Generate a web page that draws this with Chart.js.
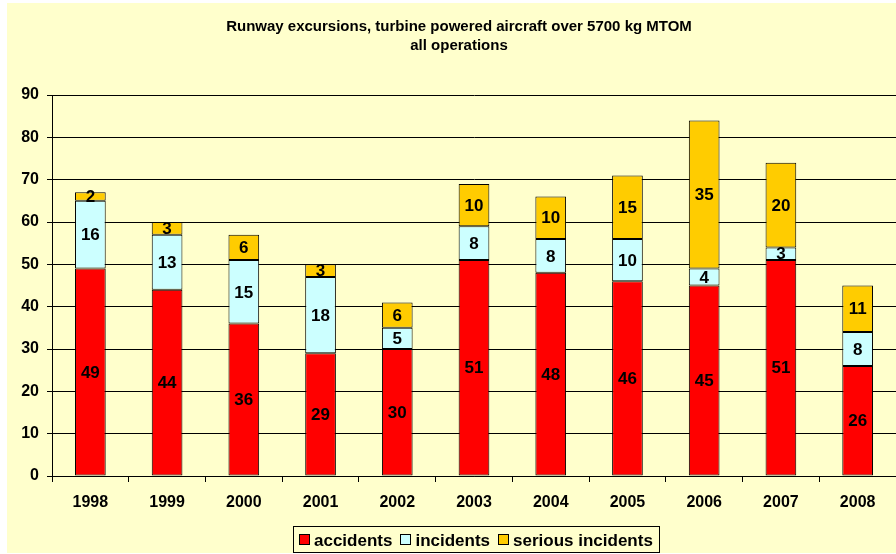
<!DOCTYPE html>
<html>
<head>
<meta charset="utf-8">
<script src="https://cdn.jsdelivr.net/npm/chart.js@4/dist/chart.umd.min.js"></script>
<style>
html,body{margin:0;padding:0;background:#fff;}
#wrap{width:896px;height:554px;position:relative;}
</style>
</head>
<body>
<div id="wrap"><canvas id="c" width="896" height="554"></canvas></div>
<script>
const years = ['1998','1999','2000','2001','2002','2003','2004','2005','2006','2007','2008'];
const accidents = [49,44,36,29,30,51,48,46,45,51,26];
const incidents = [16,13,15,18,5,8,8,10,4,3,8];
const seriousIncidents = [2,3,6,3,6,10,10,15,35,20,11];
const yTicks = [0,10,20,30,40,50,60,70,80,90];
const titleLines = ['Runway excursions, turbine powered aircraft over 5700 kg MTOM','all operations'];

const FONT = 'Arial, "Liberation Sans", sans-serif';

const bgPlugin = {
  id: 'bg',
  beforeDraw(chart) {
    const ctx = chart.ctx;
    ctx.save();
    ctx.fillStyle = '#ffffff';
    ctx.fillRect(0, 0, chart.width, chart.height);
    ctx.fillStyle = '#FFFFCC';
    ctx.fillRect(7, 3, chart.width - 7, 550);
    ctx.restore();
  }
};

const titlePlugin = {
  id: 'offsetTitle',
  afterDraw(chart) {
    const ctx = chart.ctx;
    ctx.save();
    ctx.font = 'bold 15px ' + FONT;
    ctx.fillStyle = '#000';
    ctx.textAlign = 'center';
    ctx.textBaseline = 'middle';
    titleLines.forEach((t, i) => ctx.fillText(t, 459, 27 + i * 19));
    ctx.restore();
  }
};

const labelPlugin = {
  id: 'segLabels',
  afterDatasetsDraw(chart) {
    const ctx = chart.ctx;
    ctx.save();
    ctx.font = 'bold 17px ' + FONT;
    ctx.fillStyle = '#000';
    ctx.textAlign = 'center';
    ctx.textBaseline = 'middle';
    chart.data.datasets.forEach((ds, i) => {
      const meta = chart.getDatasetMeta(i);
      meta.data.forEach((el, j) => {
        const v = ds.data[j];
        if (!v) return;
        ctx.fillText(String(v), el.x, (el.y + el.base) / 2 + 1);
      });
    });
    ctx.restore();
  }
};

const legendPlugin = {
  id: 'boxLegend',
  afterDraw(chart) {
    const ctx = chart.ctx;
    ctx.save();
    ctx.font = 'bold 17px ' + FONT;
    ctx.textBaseline = 'middle';
    ctx.textAlign = 'left';
    const box = 11, gapBox = 4, gapItem = 8, padX = 6;
    const items = chart.data.datasets.map(d => ({text: d.label, color: d.backgroundColor}));
    let total = 0;
    items.forEach((it, i) => {
      it.w = box + gapBox + ctx.measureText(it.text).width;
      total += it.w + (i ? gapItem : 0);
    });
    const boxW = Math.round(total + padX * 2);
    const left = Math.round(476 - boxW / 2);
    const top = 526, h = 26, cy = 540;
    ctx.fillStyle = '#FFFFCC';
    ctx.fillRect(left, top, boxW, h);
    ctx.strokeStyle = '#000';
    ctx.lineWidth = 1;
    ctx.strokeRect(left + 0.5, top + 0.5, boxW, h);
    let x = left + padX;
    items.forEach(it => {
      const bx = Math.round(x);
      ctx.fillStyle = it.color;
      ctx.fillRect(bx, cy - 6, box, box);
      ctx.strokeRect(bx + 0.5, cy - 5.5, box - 1, box - 1);
      ctx.fillStyle = '#000';
      ctx.fillText(it.text, x + box + gapBox, cy + 1);
      x += it.w + gapItem;
    });
    ctx.restore();
  }
};

new Chart(document.getElementById('c'), {
  type: 'bar',
  data: {
    labels: years,
    datasets: [
      {label: 'accidents', data: accidents, backgroundColor: '#FF0000', borderColor: '#000', borderWidth: 1, borderSkipped: false},
      {label: 'incidents', data: incidents, backgroundColor: '#CCFFFF', borderColor: '#000', borderWidth: 1, borderSkipped: false},
      {label: 'serious incidents', data: seriousIncidents, backgroundColor: '#FFCC00', borderColor: '#000', borderWidth: 1, borderSkipped: false}
    ]
  },
  options: {
    responsive: false,
    animation: false,
    devicePixelRatio: 1,
    layout: {padding: {left: 0, right: 0, top: 95, bottom: 0}},
    datasets: {bar: {barPercentage: 0.4, categoryPercentage: 1.0}},
    plugins: {
      legend: {display: false},
      tooltip: {enabled: false},
      title: {display: false}
    },
    scales: {
      x: {
        stacked: true,
        afterFit(s) { s.height = 78; },
        grid: {display: true, drawOnChartArea: false, drawTicks: true, tickLength: 6, color: '#000', offset: true},
        border: {display: true, color: '#000', width: 1},
        ticks: {color: '#000', font: {family: FONT, size: 16, weight: 'bold'}, padding: 11, maxRotation: 0, autoSkip: false}
      },
      y: {
        stacked: true,
        min: 0,
        max: 90,
        afterFit(s) { s.width = 52; },
        afterBuildTicks(s) { s.ticks = yTicks.map(v => ({value: v})); },
        grid: {color: '#000', lineWidth: 1, drawTicks: true, tickLength: 5},
        border: {display: true, color: '#000', width: 1},
        ticks: {color: '#000', font: {family: FONT, size: 16, weight: 'bold'}, padding: 8}
      }
    }
  },
  plugins: [bgPlugin, labelPlugin, legendPlugin, titlePlugin]
});
</script>
</body>
</html>
